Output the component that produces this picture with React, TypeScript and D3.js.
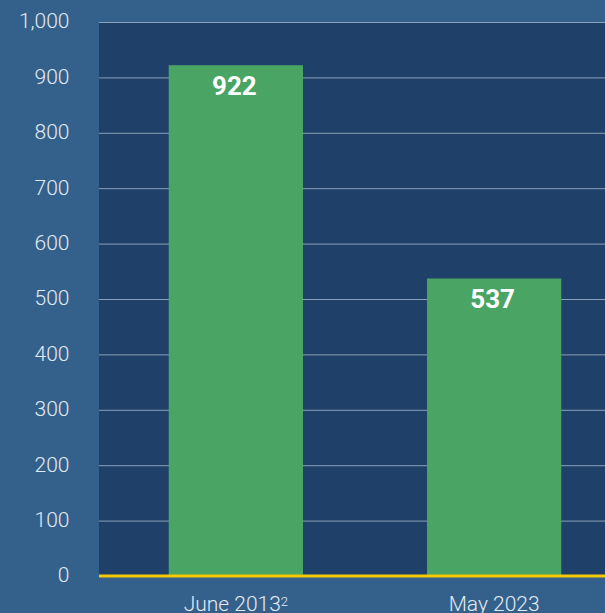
import React from "react";
import * as d3 from "d3";

const categories = ["June 2013", "May 2023"];
const superscripts = ["2", ""];
const values = [922, 537];
const yTicks = [0, 100, 200, 300, 400, 500, 600, 700, 800, 900, 1000];

const W = 605;
const H = 613;

export default function App() {
  const y = d3.scaleLinear().domain([0, 1000]).range([576, 22]);
  const x = d3
    .scaleBand<string>()
    .domain(categories)
    .range([99, 631])
    .paddingInner(0.48)
    .paddingOuter(0.27);
  const fmt = d3.format(",");
  return (
    <svg
      width={W}
      height={H}
      style={{ position: "absolute", left: 0, top: 0, fontFamily: "Roboto, sans-serif" }}
    >
      <rect x={0} y={0} width={W} height={H} fill="#34618b" />
      <rect x={99} y={y(1000)} width={W - 99} height={y(0) - y(1000)} fill="#1f4068" />
      {yTicks.map((t) => (
        <g key={t}>
          {t > 0 && (
            <line x1={99} x2={W} y1={y(t) + 0.5} y2={y(t) + 0.5} stroke="#8a9fb9" strokeWidth={1} />
          )}
          <text
            x={69.5}
            y={y(t)}
            dy="0.3em"
            textAnchor="end"
            fill="#e3eaf2"
            fontSize={21}
            fontWeight={300}
          >
            {fmt(t)}
          </text>
        </g>
      ))}
      {categories.map((c, i) => (
        <g key={c}>
          <rect
            x={x(c)}
            y={y(values[i])}
            width={x.bandwidth()}
            height={y(0) - y(values[i])}
            fill="#4aa463"
          />
          <text
            x={(x(c) as number) + x.bandwidth() / 2 - 1.5}
            y={y(values[i]) + 29.5}
            textAnchor="middle"
            fill="#ffffff"
            fontSize={26}
            fontWeight={700}
          >
            {values[i]}
          </text>
          <text
            x={(x(c) as number) + x.bandwidth() / 2}
            y={611}
            textAnchor="middle"
            fill="#e3eaf2"
            fontSize={21}
            fontWeight={300}
          >
            {c}
            {superscripts[i] && (
              <tspan fontSize={13} dy={-5}>
                {superscripts[i]}
              </tspan>
            )}
          </text>
        </g>
      ))}
      <line x1={99} x2={W} y1={y(0)} y2={y(0)} stroke="#f5c800" strokeWidth={3} />
    </svg>
  );
}
